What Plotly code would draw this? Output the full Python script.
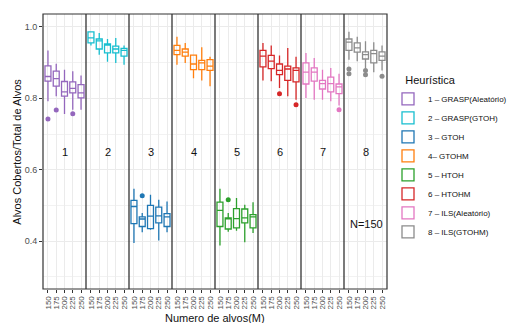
import plotly.graph_objects as go

heuristics = ["1 – GRASP(Aleatório)", "2 – GRASP(GTOH)", "3 – GTOH", "4– GTOHM",
              "5 – HTOH", "6 – HTOHM", "7 – ILS(Aleatório)", "8 – ILS(GTOHM)"]
alvos = ["150", "175", "200", "225", "250"]
colors = ["#9467bd", "#17becf", "#1f77b4", "#ff7f0e", "#2ca02c", "#d62728", "#e377c2", "#8c8c8c"]

upper = [
    [0.934, 0.897, 0.880, 0.876, 0.864],
    [0.988, 0.983, 0.966, 0.969, 0.948],
    [0.547, 0.479, 0.530, 0.516, 0.511],
    [0.972, 0.955, 0.922, 0.943, 0.916],
    [0.547, 0.479, 0.521, 0.502, 0.509],
    [0.955, 0.948, 0.920, 0.941, 0.916],
    [0.927, 0.913, 0.880, 0.885, 0.869],
    [0.986, 0.972, 0.960, 0.957, 0.948],
]
q3 = [
    [0.891, 0.876, 0.847, 0.846, 0.838],
    [0.986, 0.966, 0.952, 0.946, 0.940],
    [0.514, 0.468, 0.500, 0.495, 0.477],
    [0.948, 0.938, 0.921, 0.906, 0.908],
    [0.509, 0.465, 0.491, 0.490, 0.474],
    [0.934, 0.920, 0.896, 0.890, 0.885],
    [0.899, 0.885, 0.850, 0.859, 0.840],
    [0.966, 0.955, 0.930, 0.934, 0.930],
]
median = [
    [0.861, 0.855, 0.818, 0.828, 0.815],
    [0.969, 0.961, 0.950, 0.938, 0.934],
    [0.497, 0.462, 0.470, 0.471, 0.468],
    [0.934, 0.929, 0.896, 0.899, 0.890],
    [0.486, 0.463, 0.463, 0.465, 0.468],
    [0.918, 0.904, 0.878, 0.882, 0.878],
    [0.873, 0.873, 0.841, 0.841, 0.832],
    [0.957, 0.941, 0.922, 0.925, 0.918],
]
q1 = [
    [0.848, 0.834, 0.806, 0.815, 0.801],
    [0.955, 0.938, 0.927, 0.927, 0.918],
    [0.449, 0.441, 0.435, 0.451, 0.441],
    [0.922, 0.918, 0.880, 0.880, 0.878],
    [0.441, 0.434, 0.437, 0.451, 0.437],
    [0.888, 0.883, 0.866, 0.850, 0.846],
    [0.840, 0.848, 0.826, 0.818, 0.813],
    [0.934, 0.929, 0.910, 0.899, 0.906],
]
lower = [
    [0.792, 0.806, 0.756, 0.768, 0.768],
    [0.948, 0.922, 0.902, 0.899, 0.894],
    [0.395, 0.425, 0.432, 0.402, 0.425],
    [0.894, 0.899, 0.856, 0.850, 0.834],
    [0.388, 0.426, 0.429, 0.397, 0.423],
    [0.850, 0.848, 0.829, 0.806, 0.796],
    [0.801, 0.796, 0.796, 0.792, 0.780],
    [0.908, 0.904, 0.885, 0.873, 0.878],
]
# outliers: (heuristic index, alvos index, value)
outlier_group = [0, 0, 0, 2, 4, 5, 5, 6, 7, 7, 7, 7, 7]
outlier_pos = [0, 1, 3, 1, 1, 2, 4, 4, 0, 0, 2, 2, 4]
outlier_val = [0.742, 0.767, 0.757, 0.527, 0.516, 0.813, 0.782, 0.768,
               0.882, 0.869, 0.878, 0.866, 0.862]

PANEL_W = 5.2
PAD = 0.6


def xpos(g, i):
    return g * PANEL_W + PAD + i


fig = go.Figure()
for g, name in enumerate(heuristics):
    xs = [xpos(g, i) for i in range(len(alvos))]
    fig.add_trace(go.Box(
        x=xs, q1=q1[g], median=median[g], q3=q3[g],
        lowerfence=lower[g], upperfence=upper[g],
        name=name, boxpoints=False, width=0.72,
        line=dict(color=colors[g], width=1.3),
        fillcolor="rgba(255,255,255,0)",
        whiskerwidth=0,
    ))

for g in range(len(heuristics)):
    ox = [xpos(g, p) for gg, p in zip(outlier_group, outlier_pos) if gg == g]
    oy = [v for gg, v in zip(outlier_group, outlier_val) if gg == g]
    if ox:
        fig.add_trace(go.Scatter(x=ox, y=oy, mode="markers", showlegend=False,
                                 marker=dict(color=colors[g], size=5)))

tickvals = [xpos(g, i) for g in range(8) for i in range(5)]
ticktext = alvos * 8

shapes = []
for g in range(1, 8):
    shapes.append(dict(type="line", xref="x", yref="paper", x0=g * PANEL_W, x1=g * PANEL_W,
                       y0=0, y1=1, line=dict(color="#222", width=1.2)))
shapes.append(dict(type="rect", xref="paper", yref="paper", x0=0, x1=1, y0=0, y1=1,
                   line=dict(color="#333", width=1.2)))

annotations = []
for g in range(8):
    annotations.append(dict(x=g * PANEL_W + PANEL_W / 2, y=0.649, xref="x", yref="y",
                            text=str(g + 1), showarrow=False,
                            font=dict(size=11, color="#111")))
annotations.append(dict(x=8 * PANEL_W - 0.25, y=0.448, xref="x", yref="y", text="N=150",
                        showarrow=False, xanchor="right", font=dict(size=11, color="#111")))
annotations.append(dict(x=0.5, y=-0.105, xref="paper", yref="paper", text="Numero de alvos(M)",
                        showarrow=False, yanchor="middle", font=dict(size=11, color="#111")))
annotations.append(dict(x=-0.078, y=0.5, xref="paper", yref="paper",
                        text="Alvos Cobertos/Total de Alvos", textangle=-90,
                        showarrow=False, xanchor="center", yanchor="middle",
                        font=dict(size=11, color="#111")))

fig.update_layout(
    width=512, height=323,
    margin=dict(l=43, r=125, t=14, b=34, autoexpand=False),
    paper_bgcolor="white", plot_bgcolor="white",
    font=dict(family="Liberation Sans, Arial, sans-serif", color="#111"),
    shapes=shapes, annotations=annotations,
    legend=dict(x=(388 - 43) / 344, y=(289 - 70) / 275,
                xanchor="left", yanchor="top",
                title=dict(text="\u00a0\u00a0\u00a0\u00a0\u00a0Heurística", font=dict(size=11)),
                font=dict(size=8), tracegroupgap=0, itemwidth=30),
    xaxis=dict(range=[0, 8 * PANEL_W], tickmode="array", tickvals=tickvals, ticktext=ticktext,
               tickangle=-90, tickfont=dict(size=8, color="#4d4d4d"),
               showgrid=True, gridcolor="#ebebeb", gridwidth=1,
               ticks="outside", ticklen=3, tickcolor="#333", zeroline=False),
    yaxis=dict(range=[0.266, 1.036], tickmode="array", tickvals=[0.4, 0.6, 0.8, 1.0],
               ticktext=["0.4", "0.6", "0.8", "1.0"], tickfont=dict(size=9, color="#4d4d4d"),
               showgrid=True, gridcolor="#ebebeb", gridwidth=1.2,
               ticks="outside", ticklen=3, tickcolor="#333", zeroline=False,
               minor=dict(tickvals=[0.3, 0.5, 0.7, 0.9], showgrid=True,
                          gridcolor="#f2f2f2", gridwidth=0.6, ticks="")),
)

fig.write_html("out.html")
